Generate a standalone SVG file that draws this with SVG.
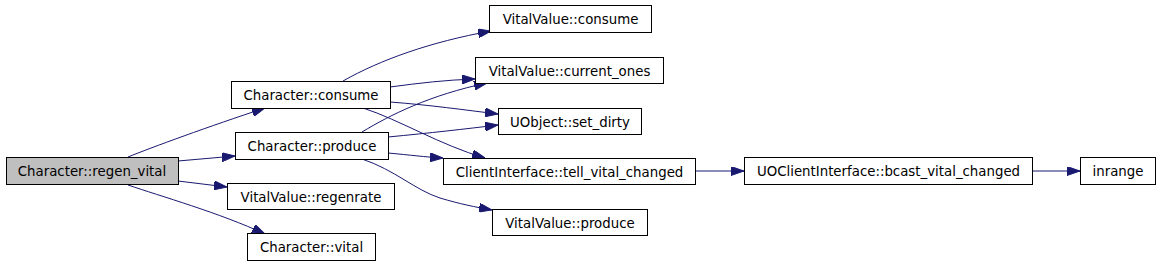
<svg xmlns="http://www.w3.org/2000/svg" width="1160" height="265" viewBox="0 0 1160 265">
<style>
.n rect{fill:#ffffff;stroke:#000000;stroke-width:1}
.n text{font-family:"DejaVu Sans",sans-serif;font-size:13.33px;fill:#000000;text-anchor:middle}
.e path{fill:none;stroke:#191970;stroke-width:1;marker-end:url(#ah)}
</style>
<defs>
<marker id="ah" markerUnits="userSpaceOnUse" viewBox="0 0 13 9" refX="13" refY="4.5" markerWidth="13" markerHeight="9" orient="auto">
<path d="M0,0 L13,4.5 L0,9 z" fill="#191970" stroke="#191970" stroke-width="1"/>
</marker>
</defs>
<rect width="1160" height="265" fill="#ffffff"/>
<g id="edges" class="e">
<path d="M128,157 C150,148 210,126 265,108"/>
<path d="M178,161 L235,156"/>
<path d="M178,181 L227,187"/>
<path d="M128,185 C160,196 220,213 265,234"/>
<path d="M343,81 C380,60 430,42 491,31"/>
<path d="M390,87 C420,83 445,80 475,79"/>
<path d="M362,132 C390,115 430,95 487,83"/>
<path d="M390,102 C430,105 465,110 498,114"/>
<path d="M388,137 C430,133 465,129 498,125"/>
<path d="M363,108 C400,120 440,145 485,158"/>
<path d="M388,153 C410,155 425,157 443,158"/>
<path d="M362,159 C395,170 415,190 440,198 C460,204 475,207 492,210"/>
<path d="M695,171 L744,171"/>
<path d="M1032,171 L1080,171"/>
</g>
<g id="regen_vital" class="n"><rect x="6.5" y="157.5" width="172" height="27" style="fill:#bfbfbf"/><text x="92" y="176">Character::regen_vital</text></g>
<g id="char_consume" class="n"><rect x="231.5" y="81.5" width="159" height="27"/><text x="311" y="100">Character::consume</text></g>
<g id="char_produce" class="n"><rect x="235.5" y="132.5" width="153" height="27"/><text x="312" y="151">Character::produce</text></g>
<g id="vv_regenrate" class="n"><rect x="227.5" y="183.5" width="167" height="26"/><text x="311" y="201.5">VitalValue::regenrate</text></g>
<g id="char_vital" class="n"><rect x="247.5" y="233.5" width="128" height="27"/><text x="311.5" y="252">Character::vital</text></g>
<g id="vv_consume" class="n"><rect x="489.5" y="5.5" width="162" height="27"/><text x="570.5" y="24">VitalValue::consume</text></g>
<g id="vv_current_ones" class="n"><rect x="475.5" y="57.5" width="188" height="26"/><text x="569.5" y="75.5">VitalValue::current_ones</text></g>
<g id="uobj_set_dirty" class="n"><rect x="498.5" y="108.5" width="143" height="26"/><text x="570" y="126.5">UObject::set_dirty</text></g>
<g id="ci_tell" class="n"><rect x="443.5" y="158.5" width="252" height="26"/><text x="569.5" y="176.5">ClientInterface::tell_vital_changed</text></g>
<g id="vv_produce" class="n"><rect x="492.5" y="209.5" width="155" height="26"/><text x="570" y="227.5">VitalValue::produce</text></g>
<g id="uoci_bcast" class="n"><rect x="744.5" y="157.5" width="288" height="27"/><text x="888.5" y="176">UOClientInterface::bcast_vital_changed</text></g>
<g id="inrange" class="n"><rect x="1080.5" y="157.5" width="75" height="27"/><text x="1118" y="176">inrange</text></g>
</svg>
